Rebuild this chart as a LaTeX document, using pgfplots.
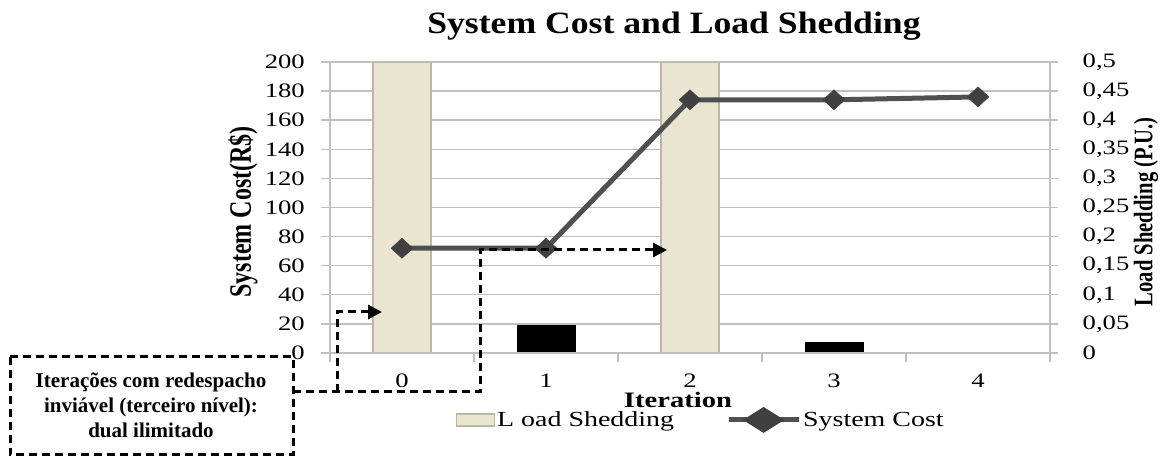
\documentclass[border=0pt]{standalone}
\usepackage{fontspec}
\setmainfont{Liberation Serif}[FakeStretch=1.3]
\newfontfamily\rotserif{Liberation Serif}
\newfontfamily\titlefont{Liberation Serif}[FakeStretch=1.15]
\usepackage{graphicx}
\usepackage{pgfplots}
\pgfplotsset{compat=1.18}
\usetikzlibrary{arrows.meta}

\definecolor{beige}{HTML}{E9E5D1}
\definecolor{beigeedge}{HTML}{BDB8A0}
\definecolor{linegray}{HTML}{505050}
\definecolor{markgray}{HTML}{404040}
\definecolor{gridgray}{HTML}{C0C0C0}

\pgfplotsset{
  /pgf/number format/assume math mode=true,
  chartbase/.style={
    at={(330pt,104pt)}, anchor=south west, scale only axis,
    width=720pt, height=291pt,
    xmin=-0.5, xmax=4.5,
    axis line style={gridgray, line width=1.4pt},
    tick style={gridgray, line width=1.4pt},
    xticklabel={\pgfmathprintnumber{\tick}},
    yticklabel={\pgfmathprintnumber{\tick}},
    tick label style={font=\fontsize{20.5}{24}\selectfont},
    scaled y ticks=false,
  },
}

\begin{document}
\begin{tikzpicture}
\useasboundingbox (0,0) rectangle (1165pt,457pt);

% right axis: load shedding bars
\begin{axis}[chartbase,
  ymin=0, ymax=0.5,
  axis y line*=right, axis x line*=bottom,
  ytick={0,0.05,0.1,0.15,0.2,0.25,0.3,0.35,0.4,0.45,0.5},
  tick align=center, major tick length=15pt,
  xtick={0,1,2,3,4}, xtick style={draw=none},
  xticklabel style={inner sep=0pt, anchor=north, yshift=-13pt},
  yticklabel style={inner sep=0pt, anchor=west, xshift=25pt,
    /pgf/number format/fixed, /pgf/number format/use comma,
    /pgf/number format/precision=2},
  ymajorgrids, grid style={gridgray, line width=1.4pt},
]
\addplot[ybar, bar width=58pt, bar shift=0pt, fill=beige, draw=beigeedge, line width=1.6pt]
  coordinates {(0,0.5) (2,0.5)};
\addplot[ybar, bar width=58pt, bar shift=0pt, fill=black, draw=black]
  coordinates {(1,0.048) (3,0.018)};
\end{axis}

% left axis: system cost line
\begin{axis}[chartbase,
  ymin=0, ymax=200,
  axis y line*=left, axis x line*=bottom,
  ytick={0,20,...,200},
  xtick={-0.5,0.5,1.5,2.5,3.5,4.5}, xticklabels={},
  tick align=outside, major tick length=9pt,
  yticklabel style={inner sep=0pt, anchor=east, xshift=-16pt},
  legend style={at={(0.515,-0.23)}, anchor=center, draw=none, fill=none,
    legend columns=2, font=\fontsize{21.5}{24}\selectfont,
    /tikz/every even column/.append style={column sep=50pt}},
]
\addlegendimage{legend image code/.code={
  \draw[fill=beige, draw=beigeedge, line width=1.2pt] (0pt,-6pt) rectangle (38pt,6pt);}}
\addlegendentry{L oad Shedding}
\addplot[linegray, line width=5pt, mark=diamond*, mark size=10pt,
  mark options={fill=markgray, draw=markgray, line width=0.5pt, xscale=1.45},
  legend image code/.code={
    \draw[linegray, line width=5pt] (0pt,0pt) -- (70pt,0pt);
    \fill[markgray] (35pt,10pt) -- (51pt,0pt) -- (35pt,-10pt) -- (19pt,0pt) -- cycle;}]
  coordinates {(0,72) (1,72) (2,174) (3,174) (4,176)};
\addlegendentry{System Cost}
\end{axis}

% titles and axis labels
\node[anchor=base, font=\titlefont\bfseries\fontsize{31}{36}\selectfont] at (674pt,423pt)
  {System Cost and Load Shedding};
\node[anchor=base, font=\bfseries\fontsize{22}{26}\selectfont] at (678pt,49pt) {Iteration};
\node[rotate=90, font=\rotserif\bfseries\fontsize{24}{28}\selectfont] at (243pt,245pt)
  {\scalebox{1}[1.3]{System Cost(R\$)}};
\node[rotate=90, font=\rotserif\bfseries\fontsize{20.6}{24}\selectfont] at (1146pt,245pt)
  {\scalebox{1}[1.3]{Load Shedding (P.U.)}};

% annotation
\begin{scope}[line width=3pt, dash pattern=on 8pt off 5pt]
\draw (10pt,100pt) rectangle (293pt,2pt);
\draw[-{Triangle[length=14pt,width=14pt]}] (293pt,65pt) -- (480pt,65pt) -- (480pt,207pt) -- (667pt,207pt);
\draw[-{Triangle[length=14pt,width=14pt]}] (337pt,65pt) -- (337pt,145pt) -- (382pt,145pt);
\end{scope}
\node[align=center, font=\rotserif\bfseries\fontsize{21}{25}\selectfont] at (151pt,52pt)
  {Iterações com redespacho\\inviável (terceiro nível):\\dual ilimitado};
\end{tikzpicture}
\end{document}
